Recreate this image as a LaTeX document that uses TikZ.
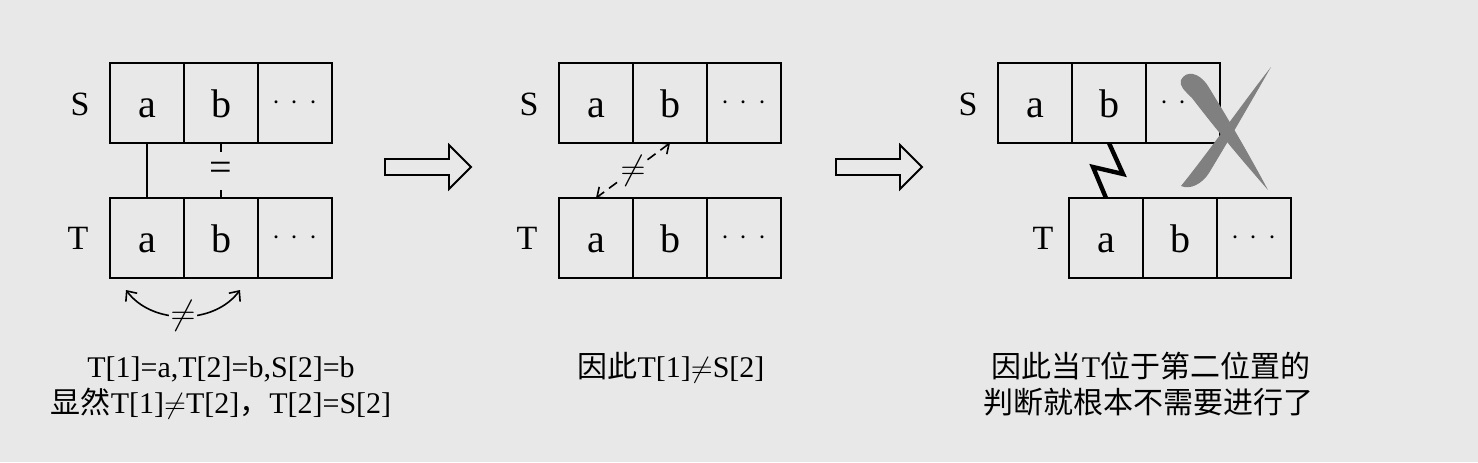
\documentclass[tikz,border=0pt]{standalone}
\usepackage{fontspec}
\setmainfont{Liberation Serif}
\newfontfamily\cjk{Noto Sans CJK SC}
\usetikzlibrary{positioning,arrows.meta}
\definecolor{bgray}{RGB}{232,232,232}
\definecolor{xgray}{RGB}{128,128,128}
\newcommand{\celldots}{$\cdot\kern2.3pt\cdot\kern2.3pt\cdot$}
\tikzset{
  cell/.style={draw,line width=0.9pt,minimum width=37pt,minimum height=40pt,
    inner sep=0pt,outer sep=0pt,font=\fontsize{15}{18}\selectfont},
  letter/.style={cell,text height=14pt,text depth=0pt,font=\fontsize{20}{24}\selectfont},
  rowlbl/.style={font=\fontsize{17}{20}\selectfont,inner sep=0pt},
  link/.style={line width=0.8pt},
  barb/.style={{Straight Barb[length=4pt,width=7pt]}-{Straight Barb[length=4pt,width=7pt]},
    line width=0.8pt},
  neq/.style={fill=bgray,inner sep=1pt,font=\fontsize{16}{18}\selectfont},
  bolt/.style={line width=2.2pt,line join=miter},
  bigarr/.style={draw,line width=0.9pt,fill=bgray},
  caption/.style={font=\fontsize{15}{18}\selectfont,anchor=base,inner sep=0pt},
  xstroke/.style={fill=xgray},
}

\begin{document}
\begin{tikzpicture}[x=0.5pt,y=-0.5pt]
  \fill[bgray] (0,0) rectangle (1478,462);
  \useasboundingbox (0,0) rectangle (1478,462);
  % the three S/T rows
  \foreach \p/\sx/\tx/\tl in {A/147/147/78, B/596/596/527, C/1035/1106/1043}{
    \node[letter] (\p s1) at (\sx,103) {a};
    \node[letter,right=0pt of \p s1] (\p s2) {b};
    \node[cell,right=0pt of \p s2] (\p s3) {\celldots};
    \node[letter] (\p t1) at (\tx,238) {a};
    \node[letter,right=0pt of \p t1] (\p t2) {b};
    \node[cell,right=0pt of \p t2] (\p t3) {\celldots};
    \node[rowlbl] (\p sl) at (\sx-67,104) {S};
    \node[rowlbl] (\p tl) at (\tl,238) {T};
  }
  % step arrows
  \foreach \ax in {385,836}
    \draw[bigarr] (\ax,159) -- ++(64,0) -- ++(0,-14) -- ++(22,22) -- ++(-22,22)
      -- ++(0,-14) -- ++(-64,0) -- cycle;

  % panel 1: matches and the arc
  \draw[link] (As1.south) -- (At1.north);
  \node[inner sep=0pt,minimum height=19pt,font=\fontsize{20}{24}\selectfont] (Aeq) at (221,171) {=};
  \draw[link] (As2.south) -- (Aeq.north);
  \draw[link] (Aeq.south) -- (At2.north);
  \coordinate (Aarcl) at (126,290);
  \coordinate (Aarcr) at (240,290);
  \draw[barb] (Aarcl) .. controls (152,325) and (214,325) .. (Aarcr)
    node[midway,neq] {$\neq$};

  % panel 2
  \draw[barb,dash pattern=on 5pt off 3pt] (Bs2.south) -- node[neq] {$\neq$} (Bt1.north);

  % panel 3: bolt and the cross
  \draw[bolt] (Cs2.south) -- ++(14,31) -- ++(-30,-7) -- (Ct1.north);
  \fill[xstroke] (1181,80) .. controls (1186,70) and (1199,72) .. (1208,86)
    .. controls (1232,125) and (1252,160) .. (1268,190)
    .. controls (1240,158) and (1215,128) .. (1192,98)
    .. controls (1184,90) and (1179,86) .. (1181,80) -- cycle;
  \fill[xstroke] (1271,67) .. controls (1245,100) and (1210,150) .. (1181,186)
    .. controls (1190,190) and (1202,184) .. (1209,173)
    .. controls (1232,135) and (1252,100) .. (1271,67) -- cycle;

  % captions
  \node[caption] (Acap1) at (221,377) {T[1]=a,T[2]=b,S[2]=b};
  \node[caption] (Acap2) at (221,413) {{\cjk 显然}T[1]$\neq$T[2]{\cjk ，}T[2]=S[2]};
  \node[caption] (Bcap) at (671,377) {{\cjk 因此}T[1]$\neq$S[2]};
  \node[caption] (Ccap1) at (1151,377) {{\cjk 因此当}T{\cjk 位于第二位置的}};
  \node[caption] (Ccap2) at (1148,413) {\cjk 判断就根本不需要进行了};
\end{tikzpicture}
\end{document}
